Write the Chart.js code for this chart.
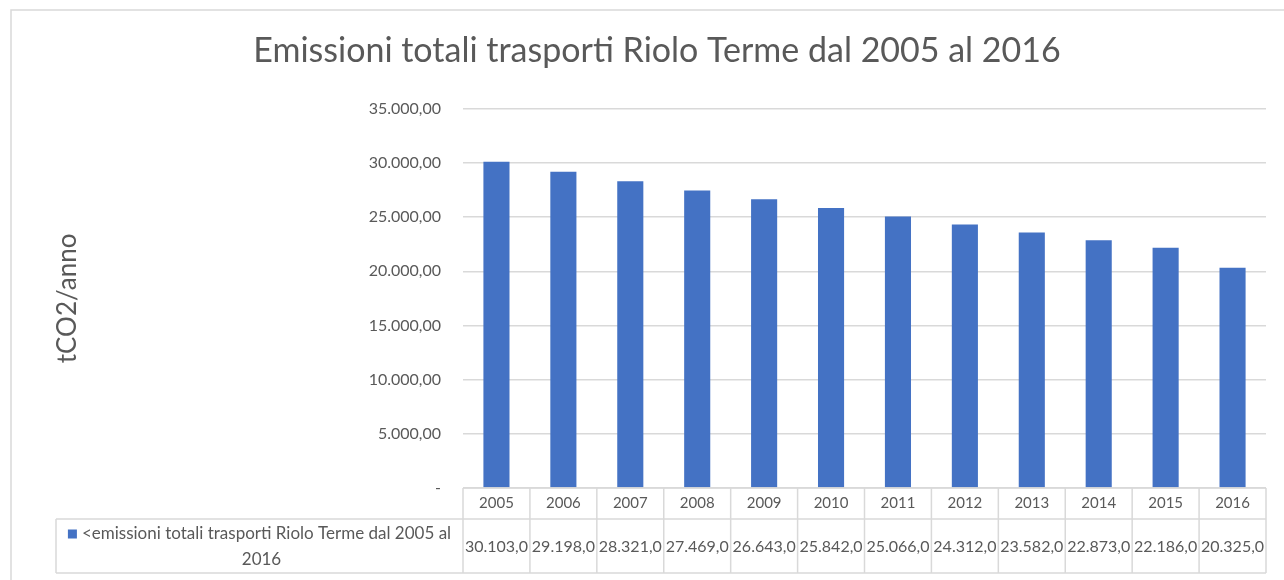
<!DOCTYPE html>
<html>
<head>
<meta charset="utf-8">
<script src="https://cdn.jsdelivr.net/npm/chart.js@4.4.0/dist/chart.umd.min.js"></script>
<style>
  html, body { margin: 0; padding: 0; background: #fff; }
  #wrap { width: 1284px; height: 580px; position: relative; }
</style>
</head>
<body>
<div id="wrap"><canvas id="chart"></canvas></div>
<script>
// Data
var years = ['2005', '2006', '2007', '2008', '2009', '2010', '2011', '2012', '2013', '2014', '2015', '2016'];
var emissions = [30103, 29198, 28321, 27469, 26643, 25842, 25066, 24312, 23582, 22873, 22186, 20325];
var seriesName = '<emissioni totali trasporti Riolo Terme dal 2005 al 2016';
var chartTitle = 'Emissioni totali trasporti Riolo Terme dal 2005 al 2016';
var axisTitle = 'tCO2/anno';

var FONT = 'Lato';
var GREY = '#595959';
var LINE = '#D9D9D9';
var BLUE = '#4472C4';

function groupThousands(n) {
    return String(Math.trunc(n)).replace(/\B(?=(\d{3})+(?!\d))/g, '.');
}
function formatTick(v) {
    if (v === 0) return '-';
    return groupThousands(v) + ',00';
}
// the table cells are too narrow, so Excel cuts the value to one decimal
function formatCell(v) {
    return groupThousands(v) + ',0';
}

// outer frame of the chart object
var framePlugin = {
    id: 'frame',
    beforeDraw: function(chart) {
        var ctx = chart.ctx;
        ctx.save();
        ctx.strokeStyle = LINE;
        ctx.lineWidth = 1.5;
        ctx.strokeRect(11, 10, 1400, 700);
        ctx.restore();
    }
};

// data table under the plot (years row + values row)
var dataTablePlugin = {
    id: 'dataTable',
    afterDraw: function(chart) {
        var ctx = chart.ctx;
        var area = chart.chartArea;
        var x = chart.scales.x;
        var n = years.length;
        var colW = (area.right - area.left) / n;
        var rowTop = area.bottom;
        var row2Top = rowTop + 31;
        var row2Bottom = row2Top + 54;
        var legendLeft = 56;

        ctx.save();
        ctx.strokeStyle = LINE;
        ctx.lineWidth = 1.5;

        // horizontal lines
        ctx.beginPath();
        ctx.moveTo(area.left, rowTop); ctx.lineTo(area.right, rowTop);
        ctx.moveTo(legendLeft, row2Top); ctx.lineTo(area.right, row2Top);
        ctx.moveTo(legendLeft, row2Bottom); ctx.lineTo(area.right, row2Bottom);
        // vertical lines
        for (var i = 0; i <= n; i++) {
            var lx = area.left + i * colW;
            ctx.moveTo(lx, rowTop); ctx.lineTo(lx, row2Bottom);
        }
        ctx.moveTo(legendLeft, row2Top); ctx.lineTo(legendLeft, row2Bottom);
        ctx.stroke();

        // values
        ctx.fillStyle = GREY;
        ctx.font = '16px ' + FONT;
        ctx.textAlign = 'center';
        ctx.textBaseline = 'middle';
        var midY = (row2Top + row2Bottom) / 2 + 1;
        for (var j = 0; j < n; j++) {
            var cx = x.getPixelForValue(j);
            ctx.fillText(formatCell(emissions[j]), cx, midY, colW - 1);
        }

        // legend cell: wrap the series name
        ctx.font = '17px ' + FONT;
        var maxW = 375;
        var words = seriesName.split(' ');
        var lines = [];
        var cur = '';
        words.forEach(function(w) {
            var test = cur ? cur + ' ' + w : w;
            if (ctx.measureText(test).width > maxW && cur) {
                lines.push(cur);
                cur = w;
            } else {
                cur = test;
            }
        });
        if (cur) lines.push(cur);

        var cellMid = (legendLeft + area.left) / 2;
        var lineH = 26;
        var y0 = midY - (lines.length - 1) * lineH / 2;
        lines.forEach(function(line, k) {
            var w = ctx.measureText(line).width;
            var ly = y0 + k * lineH;
            if (k === 0) {
                var sq = 9, gap = 5;
                var startX = cellMid - (w + sq + gap) / 2;
                ctx.fillStyle = BLUE;
                ctx.fillRect(startX, ly - sq / 2, sq, sq);
                ctx.fillStyle = GREY;
                ctx.textAlign = 'left';
                ctx.fillText(line, startX + sq + gap, ly);
            } else {
                ctx.fillStyle = GREY;
                ctx.textAlign = 'center';
                ctx.fillText(line, cellMid + 2, ly);
            }
        });
        ctx.restore();
    }
};

var ctx = document.getElementById('chart').getContext('2d');
new Chart(ctx, {
    type: 'bar',
    data: {
        labels: years,
        datasets: [{
            label: seriesName,
            data: emissions,
            backgroundColor: BLUE,
            categoryPercentage: 1,
            barPercentage: 0.39
        }]
    },
    options: {
        responsive: true,
        maintainAspectRatio: false,
        animation: false,
        layout: { padding: { left: 48, right: 18, top: 0, bottom: 0 } },
        plugins: {
            legend: { display: false },
            tooltip: { enabled: false },
            title: {
                display: true,
                text: chartTitle,
                color: GREY,
                font: { family: FONT, size: 34, weight: 'normal' },
                padding: { top: 31, bottom: 37 }
            }
        },
        scales: {
            x: {
                grid: { display: false, drawTicks: false },
                border: { display: false },
                ticks: { color: GREY, font: { family: FONT, size: 15 }, padding: 6, maxRotation: 0 },
                afterFit: function(scale) { scale.height = 92; }
            },
            y: {
                min: 0,
                max: 35000,
                grid: { color: LINE, lineWidth: 1.5, drawTicks: false },
                border: { display: false },
                ticks: {
                    stepSize: 5000,
                    color: GREY,
                    font: { family: FONT, size: 16 },
                    padding: 22,
                    callback: function(v) { return formatTick(v); }
                },
                title: {
                    display: true,
                    text: axisTitle,
                    color: GREY,
                    font: { family: FONT, size: 26 },
                    padding: { top: 4, bottom: 0 }
                },
                afterFit: function(scale) { scale.width = 415; }
            }
        }
    },
    plugins: [framePlugin, dataTablePlugin]
});
</script>
</body>
</html>
